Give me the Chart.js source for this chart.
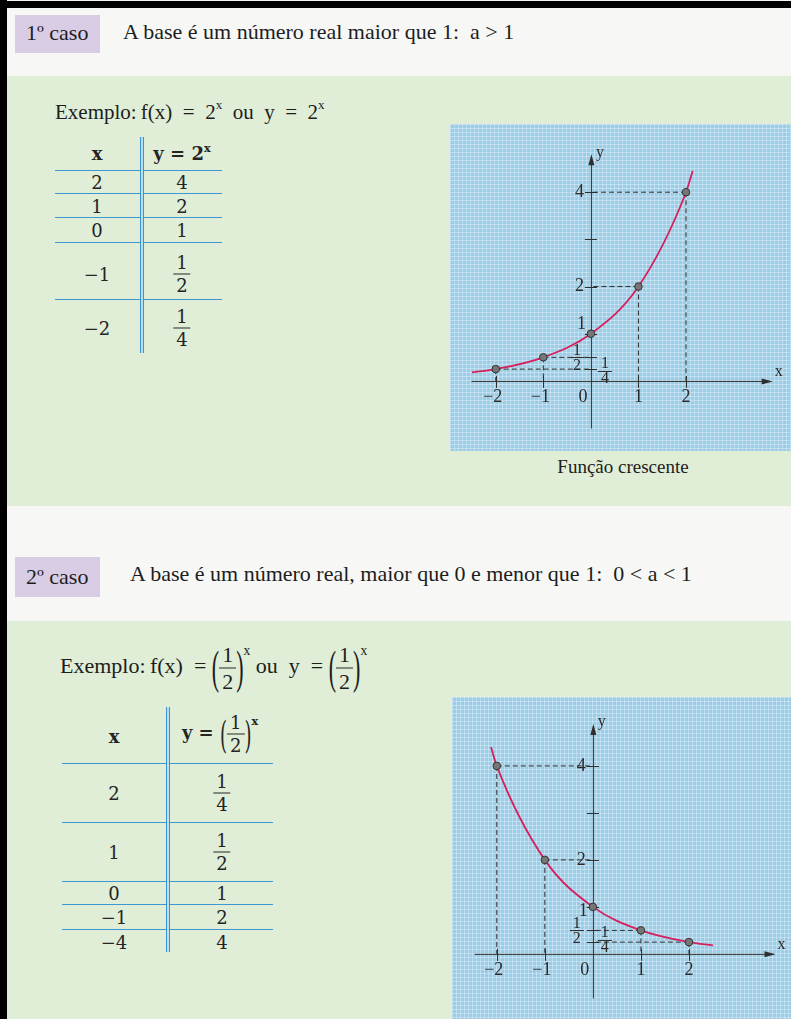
<!DOCTYPE html>
<html>
<head>
<meta charset="utf-8">
<script src="https://cdn.jsdelivr.net/npm/chart.js@4.4.1/dist/chart.umd.min.js"></script>
<style>
  html, body { margin: 0; padding: 0; }
  body {
    width: 791px; height: 1019px; position: relative; overflow: hidden;
    background: #f7f8f6; color: #1d1d1d;
    font-family: "Liberation Serif", "Times New Roman", serif;
  }
  .l { position: absolute; transform: translateY(-50%); white-space: nowrap; }
  .c { position: absolute; transform: translate(-50%, -50%); white-space: nowrap; }
  .bar { position: absolute; background: #000; }
  .green { position: absolute; left: 7px; width: 784px; background: #e0eed8; }
  .caso { position: absolute; left: 15px; width: 85px; background: #d9cde6; }
  .head { font-size: 22px; }
  .grid {
    position: absolute;
    background-color: #9ccde7;
    background-image:
      linear-gradient(rgba(255,255,255,0.32) 1px, transparent 1px),
      linear-gradient(90deg, rgba(255,255,255,0.32) 1px, transparent 1px);
    background-size: 4px 4px;
  }
  .grid canvas { position: absolute; left: 0; top: 0; }
  .hl { position: absolute; height: 1px; background: #3d97d3; }
  .vb { position: absolute; width: 2px; border-left: 1px solid #3a95d2; border-right: 1px solid #3a95d2; background: #b7def1; }
  .tb { font-family: "DejaVu Serif", serif; font-size: 18px; color: #242424; }
  .tb b { font-weight: bold; }
  .frac { display: inline-flex; flex-direction: column; align-items: center; vertical-align: middle; line-height: 1; }
  .frac > span:first-child { border-bottom: 1px solid #262626; padding: 0 3px 2px; }
  .frac > span:last-child { padding-top: 2px; }
  .bp { display: inline-block; transform: scaleY(2.1); vertical-align: middle; font-weight: normal; }
  sup { font-size: 0.62em; vertical-align: 0.7em; line-height: 0; }
</style>
</head>
<body>

<div class="bar" style="left:0;top:1px;width:791px;height:7px"></div>
<div class="bar" style="left:0;top:0;width:7px;height:1019px"></div>

<!-- 1º caso -->
<div class="caso" style="top:15px;height:38px"></div>
<div class="l head" style="left:26px;top:33px">1º caso</div>
<div class="l head" style="left:123px;top:32px">A base é um número real maior que 1:&nbsp; a &gt; 1</div>

<div class="green" style="top:76px;height:430px"></div>
<div class="l" style="left:55px;top:112px;font-size:21px">Exemplo:&#8201;f(x) &nbsp;=&nbsp; 2<sup>x</sup>&nbsp; ou&nbsp; y &nbsp;=&nbsp; 2<sup>x</sup></div>

<!-- tabela 1 -->
<div class="hl" style="left:55px;top:170px;width:167px"></div>
<div class="hl" style="left:55px;top:193px;width:167px"></div>
<div class="hl" style="left:55px;top:217px;width:167px"></div>
<div class="hl" style="left:55px;top:242px;width:167px"></div>
<div class="hl" style="left:55px;top:299px;width:167px"></div>
<div class="vb" style="left:140px;top:137px;height:216px"></div>
<div id="table1"></div>

<div class="grid" style="left:450px;top:124px;width:341px;height:327px">
  <canvas id="chartUp" width="341" height="327"></canvas>
</div>
<div class="c" style="left:623px;top:467px;font-size:19px">Função crescente</div>

<!-- 2º caso -->
<div class="caso" style="top:557px;height:40px"></div>
<div class="l head" style="left:26px;top:577px">2º caso</div>
<div class="l head" style="left:130px;top:574px">A base é um número real, maior que 0 e menor que 1:&nbsp; 0 &lt; a &lt; 1</div>

<div class="green" style="top:621px;height:398px"></div>
<div class="l" style="left:60px;top:668px;font-size:22px">Exemplo:&#8201;f(x) &nbsp;= <span class="bp">(</span><span class="frac"><span>1</span><span>2</span></span><span class="bp">)</span><sup style="vertical-align:1.3em">x</sup> ou&nbsp; y &nbsp;= <span class="bp">(</span><span class="frac"><span>1</span><span>2</span></span><span class="bp">)</span><sup style="vertical-align:1.3em">x</sup></div>

<!-- tabela 2 -->
<div class="hl" style="left:62px;top:763px;width:211px"></div>
<div class="hl" style="left:62px;top:822px;width:211px"></div>
<div class="hl" style="left:62px;top:881px;width:211px"></div>
<div class="hl" style="left:62px;top:904px;width:211px"></div>
<div class="hl" style="left:62px;top:929px;width:211px"></div>
<div class="vb" style="left:166px;top:707px;height:245px"></div>
<div id="table2"></div>

<div class="grid" style="left:452px;top:697px;width:339px;height:322px">
  <canvas id="chartDown" width="339" height="322"></canvas>
</div>

<script>
// Pontos das tabelas
const xValues   = [-2, -1, 0, 1, 2];
const yGrowth   = [0.25, 0.5, 1, 2, 4];      // y = 2^x
const yDecay    = [4, 2, 1, 0.5, 0.25];      // y = (1/2)^x
// Tabela 2 como impressa (última linha: −4 | 4)
const xTable2   = [2, 1, 0, -1, -4];
const yTable2   = ['1/4', '1/2', '1', '2', '4'];
const xTable1   = [2, 1, 0, -1, -2];
const yTable1   = ['4', '2', '1', '1/2', '1/4'];
// Extremos das curvas desenhadas
const growthStart = { x: -2.5, y: 0.18 };
const growthEnd   = { x: 2.14, y: 4.45 };
const decayStart  = { x: -2.12, y: 4.4 };
const decayEnd    = { x: 2.5, y: 0.18 };
// Rótulos dos eixos
const xTickLabels = ['−2', '−1', '1', '2'];
const xTickValues = [-2, -1, 1, 2];

const MINUS = '−';
function fmt(v) { return String(v).replace('-', MINUS); }
function fracHTML(s) {
  if (s.indexOf('/') < 0) return s;
  const [n, d] = s.split('/');
  return '<span class="frac"><span>' + n + '</span><span>' + d + '</span></span>';
}

// Tabelas
function buildTable(el, xs, ys, colX, colY, rowsY, header) {
  let html = header;
  xs.forEach((xv, i) => {
    html += '<div class="c tb" style="left:' + colX + 'px;top:' + rowsY[i] + 'px">' + fmt(xv) + '</div>';
    html += '<div class="c tb" style="left:' + colY + 'px;top:' + rowsY[i] + 'px">' + fracHTML(ys[i]) + '</div>';
  });
  el.innerHTML = html;
}
buildTable(document.getElementById('table1'), xTable1, yTable1, 97, 182,
  [182, 206, 230, 274, 328],
  '<div class="c tb" style="left:97px;top:153px"><b>x</b></div>' +
  '<div class="c tb" style="left:182px;top:153px"><b>y = 2<sup>x</sup></b></div>');
buildTable(document.getElementById('table2'), xTable2, yTable2, 114, 222,
  [793, 852, 893, 917, 942],
  '<div class="c tb" style="left:114px;top:736px"><b>x</b></div>' +
  '<div class="c tb" style="left:220px;top:734px"><b>y = </b><span class="bp">(</span><span class="frac"><span>1</span><span>2</span></span><span class="bp">)</span><b><sup style="vertical-align:1.3em">x</sup></b></div>');

// Eixos, guias tracejadas e rótulos desenhados sobre as escalas do gráfico
const axesPlugin = {
  id: 'mathAxes',
  beforeDatasetsDraw(chart, args, o) {
    const { ctx } = chart;
    const sx = chart.scales.x, sy = chart.scales.y;
    const px = v => sx.getPixelForValue(v), py = v => sy.getPixelForValue(v);
    const ox = px(0), oy = py(0);
    ctx.save();
    ctx.strokeStyle = '#2e2e2e';
    ctx.lineWidth = 1;

    // guias tracejadas dos pontos
    ctx.setLineDash([5, 3]);
    o.xs.forEach((xv, i) => {
      if (xv === 0) return;
      const X = px(xv), Y = py(o.ys[i]);
      ctx.beginPath(); ctx.moveTo(X, Y); ctx.lineTo(ox, Y); ctx.stroke();
      ctx.beginPath(); ctx.moveTo(X, Y); ctx.lineTo(X, oy); ctx.stroke();
    });
    ctx.setLineDash([]);

    // eixos
    const xe = px(o.xAxis[1]), ye = py(o.yAxis[1]);
    ctx.beginPath();
    ctx.moveTo(px(o.xAxis[0]), oy + 0.5); ctx.lineTo(xe, oy + 0.5);
    ctx.moveTo(ox + 0.5, py(o.yAxis[0])); ctx.lineTo(ox + 0.5, ye);
    ctx.stroke();
    ctx.fillStyle = '#2e2e2e';
    ctx.beginPath(); ctx.moveTo(xe + 2, oy + 0.5); ctx.lineTo(xe - 9, oy - 2.5); ctx.lineTo(xe - 9, oy + 3.5); ctx.closePath(); ctx.fill();
    ctx.beginPath(); ctx.moveTo(ox + 0.5, ye - 2); ctx.lineTo(ox - 2.5, ye + 9); ctx.lineTo(ox + 3.5, ye + 9); ctx.closePath(); ctx.fill();

    // marcas
    ctx.beginPath();
    xTickValues.forEach(v => { const X = Math.round(px(v)) + 0.5; ctx.moveTo(X, oy - 5); ctx.lineTo(X, oy + 7); });
    o.yTicks.forEach(v => { const Y = Math.round(py(v)) + 0.5; ctx.moveTo(ox - 6, Y); ctx.lineTo(ox + 6, Y); });
    ctx.stroke();

    // rótulos
    ctx.fillStyle = '#2a2a2a';
    ctx.font = '18px "Liberation Serif", serif';
    ctx.textAlign = 'center'; ctx.textBaseline = 'middle';
    xTickValues.forEach((v, i) => ctx.fillText(xTickLabels[i], px(v) - (v < 0 ? 3 : 0), oy + 16));
    ctx.fillText('0', ox - 8, oy + 16);
    ctx.textAlign = 'right';
    ctx.fillText('4', ox - 7, py(4));
    ctx.fillText('2', ox - 7, py(2));
    ctx.fillText('1', ox - 5, py(1) + o.oneDy);
    ctx.textAlign = 'left';
    ctx.font = '16px "Liberation Serif", serif';
    ctx.fillText('x', xe + 4, oy - 9);
    ctx.fillText('y', ox + 5, ye - 4);

    // frações 1/2 e 1/4
    const frac = (cx, cy, d) => {
      ctx.font = '16px "Liberation Serif", serif';
      ctx.textAlign = 'center';
      ctx.fillText('1', cx, cy - 7);
      ctx.fillText(d, cx, cy + 8);
      ctx.beginPath(); ctx.moveTo(cx - 7, Math.round(cy) + 0.5); ctx.lineTo(cx + 7, Math.round(cy) + 0.5); ctx.stroke();
    };
    frac(ox - o.halfDx, py(0.5), '2');
    frac(ox + o.quarterDx, py(0.25) + o.quarterDy, '4');
    ctx.restore();
  }
};

function makeChart(id, curve, ys, range, extra) {
  const pts = xValues.map((x, i) => ({ x, y: ys[i] }));
  return new Chart(document.getElementById(id), {
    type: 'scatter',
    data: {
      datasets: [
        {
          data: pts, order: 0,
          pointRadius: 3.8, pointBackgroundColor: '#767676', pointBorderColor: '#333', pointBorderWidth: 1,
          showLine: false
        },
        {
          data: curve, order: 1, showLine: true,
          borderColor: '#d6205e', borderWidth: 1.8, pointRadius: 0,
          cubicInterpolationMode: 'monotone', fill: false
        }
      ]
    },
    options: {
      responsive: false, animation: false, devicePixelRatio: 1,
      layout: { padding: 0 },
      plugins: { legend: { display: false }, tooltip: { enabled: false }, mathAxes: extra },
      scales: {
        x: { type: 'linear', display: false, min: range.x[0], max: range.x[1] },
        y: { type: 'linear', display: false, min: range.y[0], max: range.y[1] }
      },
      events: []
    },
    plugins: [axesPlugin]
  });
}

const growthCurve = [growthStart, ...xValues.map((x, i) => ({ x, y: yGrowth[i] })), growthEnd];
const decayCurve  = [decayStart,  ...xValues.map((x, i) => ({ x, y: yDecay[i] })),  decayEnd];

makeChart('chartUp', growthCurve, yGrowth,
  { x: [-2.857, 4.102], y: [-1.38, 5.34] },
  { xs: xValues, ys: yGrowth, xAxis: [-2.51, 3.78], yAxis: [-1.01, 4.76],
    yTicks: [0.25, 0.5, 1, 2, 3, 4], oneDy: -9, halfDx: 14, quarterDx: 14, quarterDy: 2 });

makeChart('chartDown', decayCurve, yDecay,
  { x: [-2.828, 4.02], y: [-1.28, 5.36] },
  { xs: xValues, ys: yDecay, xAxis: [-2.46, 3.76], yAxis: [-0.95, 4.85],
    yTicks: [0.25, 0.5, 1, 2, 3, 4], oneDy: 4, halfDx: 16, quarterDx: 12, quarterDy: -2 });
</script>
</body>
</html>
